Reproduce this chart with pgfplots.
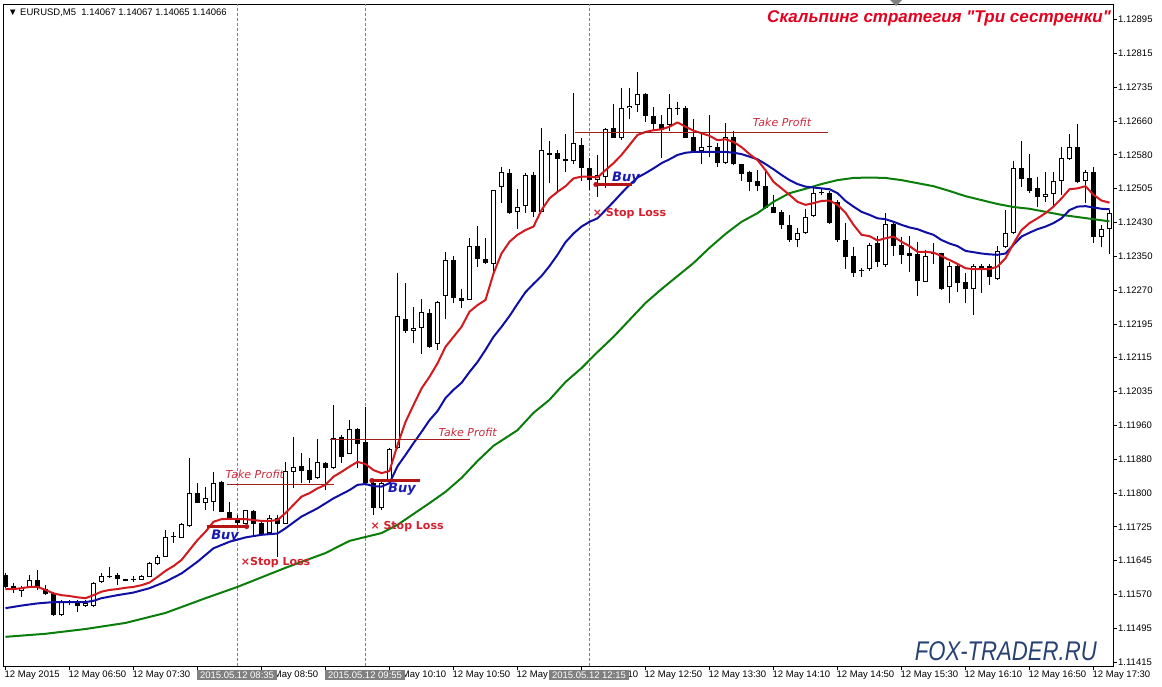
\documentclass[border=0pt]{standalone}
\usepackage{pgfplots}
\pgfplotsset{compat=1.18}
\usepackage{pgfplotstable}
\usepackage{fontspec}
\setmainfont{Liberation Sans}
\newfontfamily\dejavu{DejaVu Sans}
\newfontfamily\titlefont[Ligatures=TeXOff]{Liberation Sans}
\definecolor{mared}{RGB}{210,25,30}
\definecolor{mablue}{RGB}{15,15,165}
\definecolor{magreen}{RGB}{10,125,10}
\definecolor{entryred}{RGB}{180,20,20}
\definecolor{tpred}{RGB}{160,30,30}
\definecolor{tptext}{RGB}{205,40,60}
\definecolor{buyblue}{RGB}{25,25,180}
\definecolor{slred}{RGB}{215,30,45}
\definecolor{titlered}{RGB}{228,0,30}
\definecolor{foxblue}{RGB}{40,65,115}
\definecolor{boxgray}{RGB}{128,128,128}

\pgfplotstableread{
j O H L C
2 1.11579 1.11590 1.11565 1.11586
3 1.11588 1.11615 1.11587 1.11604
7 1.11523 1.11558 1.11522 1.11554
8 1.11552 1.11558 1.11546 1.11554
10 1.11545 1.11558 1.11542 1.11551
11 1.11544 1.11600 1.11542 1.11598
12 1.11600 1.11619 1.11596 1.11613
13 1.11612 1.11633 1.11608 1.11614
17 1.11604 1.11615 1.11603 1.11613
18 1.11611 1.11646 1.11610 1.11642
19 1.11641 1.11661 1.11638 1.11656
20 1.11658 1.11719 1.11657 1.11704
22 1.11701 1.11735 1.11700 1.11732
23 1.11728 1.11884 1.11725 1.11804
25 1.11782 1.11819 1.11765 1.11792
26 1.11784 1.11853 1.11763 1.11828
30 1.11734 1.11765 1.11733 1.11764
33 1.11711 1.11754 1.11710 1.11747
35 1.11734 1.11876 1.11733 1.11856
36 1.11853 1.11934 1.11815 1.11864
39 1.11838 1.11928 1.11836 1.11875
41 1.11861 1.12007 1.11860 1.11930
43 1.11894 1.11972 1.11893 1.11951
47 1.11769 1.11830 1.11765 1.11827
48 1.11830 1.11907 1.11827 1.11905
49 1.11907 1.12310 1.11906 1.12212
51 1.12178 1.12233 1.12149 1.12184
52 1.12184 1.12251 1.12125 1.12221
54 1.12147 1.12247 1.12134 1.12244
55 1.12259 1.12360 1.12204 1.12341
58 1.12250 1.12391 1.12249 1.12373
61 1.12332 1.12503 1.12312 1.12502
62 1.12509 1.12556 1.12472 1.12543
64 1.12451 1.12504 1.12412 1.12462
65 1.12465 1.12541 1.12450 1.12537
67 1.12452 1.12645 1.12451 1.12594
71 1.12568 1.12725 1.12562 1.12610
74 1.12525 1.12584 1.12485 1.12537
75 1.12533 1.12644 1.12506 1.12643
77 1.12621 1.12737 1.12617 1.12690
78 1.12690 1.12737 1.12665 1.12696
79 1.12698 1.12775 1.12683 1.12723
83 1.12652 1.12723 1.12637 1.12692
87 1.12592 1.12633 1.12562 1.12602
88 1.12601 1.12675 1.12579 1.12603
90 1.12564 1.12657 1.12562 1.12624
99 1.12387 1.12414 1.12372 1.12403
100 1.12403 1.12459 1.12402 1.12439
101 1.12442 1.12506 1.12441 1.12496
102 1.12495 1.12506 1.12491 1.12497
108 1.12320 1.12380 1.12316 1.12376
110 1.12330 1.12449 1.12324 1.12423
115 1.12291 1.12364 1.12290 1.12350
118 1.12278 1.12337 1.12241 1.12327
121 1.12274 1.12332 1.12214 1.12327
124 1.12297 1.12373 1.12295 1.12362
125 1.12370 1.12456 1.12369 1.12404
126 1.12404 1.12568 1.12402 1.12552
130 1.12485 1.12544 1.12475 1.12492
131 1.12493 1.12544 1.12462 1.12523
132 1.12524 1.12602 1.12491 1.12575
133 1.12573 1.12631 1.12572 1.12601
135 1.12523 1.12548 1.12472 1.12543
137 1.12393 1.12422 1.12372 1.12412
138 1.12412 1.12456 1.12355 1.12450
}\bull

\pgfplotstableread{
j O H L C
0 1.11615 1.11620 1.11586 1.11588
1 1.11591 1.11597 1.11574 1.11583
4 1.11604 1.11627 1.11581 1.11585
5 1.11583 1.11592 1.11569 1.11572
6 1.11573 1.11577 1.11522 1.11523
9 1.11553 1.11558 1.11531 1.11545
14 1.11615 1.11619 1.11592 1.11606
15 1.11606 1.11607 1.11601 1.11602
16 1.11606 1.11613 1.11600 1.11604
21 1.11705 1.11715 1.11688 1.11703
24 1.11804 1.11827 1.11781 1.11782
27 1.11830 1.11833 1.11760 1.11761
28 1.11761 1.11784 1.11742 1.11746
29 1.11747 1.11754 1.11727 1.11736
31 1.11763 1.11765 1.11708 1.11733
32 1.11736 1.11738 1.11708 1.11710
34 1.11747 1.11754 1.11658 1.11733
37 1.11866 1.11896 1.11827 1.11856
38 1.11857 1.11884 1.11827 1.11834
40 1.11874 1.11876 1.11811 1.11861
42 1.11934 1.11938 1.11873 1.11888
44 1.11951 1.11953 1.11861 1.11917
45 1.11922 1.12003 1.11823 1.11827
46 1.11827 1.11834 1.11754 1.11769
50 1.12205 1.12287 1.12172 1.12178
53 1.12219 1.12227 1.12138 1.12141
56 1.12341 1.12350 1.12243 1.12253
57 1.12254 1.12274 1.12231 1.12247
59 1.12373 1.12419 1.12326 1.12343
60 1.12343 1.12391 1.12332 1.12333
63 1.12541 1.12550 1.12446 1.12450
66 1.12537 1.12544 1.12439 1.12452
68 1.12587 1.12614 1.12518 1.12583
69 1.12587 1.12594 1.12498 1.12573
70 1.12574 1.12631 1.12544 1.12568
72 1.12606 1.12621 1.12524 1.12552
73 1.12552 1.12575 1.12502 1.12525
76 1.12644 1.12700 1.12622 1.12623
80 1.12723 1.12725 1.12660 1.12673
81 1.12673 1.12694 1.12640 1.12654
82 1.12654 1.12675 1.12575 1.12640
84 1.12692 1.12706 1.12675 1.12690
85 1.12690 1.12696 1.12622 1.12623
86 1.12624 1.12665 1.12592 1.12593
89 1.12601 1.12610 1.12555 1.12565
91 1.12624 1.12639 1.12560 1.12561
92 1.12561 1.12562 1.12524 1.12539
93 1.12543 1.12547 1.12501 1.12521
94 1.12523 1.12548 1.12501 1.12511
95 1.12511 1.12548 1.12459 1.12460
96 1.12464 1.12491 1.12449 1.12450
97 1.12452 1.12456 1.12412 1.12422
98 1.12422 1.12445 1.12382 1.12386
103 1.12495 1.12500 1.12424 1.12426
104 1.12475 1.12479 1.12383 1.12386
105 1.12387 1.12427 1.12320 1.12349
106 1.12351 1.12372 1.12301 1.12310
107 1.12318 1.12322 1.12302 1.12315
109 1.12380 1.12396 1.12326 1.12337
111 1.12423 1.12427 1.12350 1.12373
112 1.12376 1.12395 1.12332 1.12353
113 1.12356 1.12396 1.12313 1.12351
114 1.12355 1.12383 1.12257 1.12293
116 1.12356 1.12380 1.12332 1.12354
117 1.12356 1.12358 1.12272 1.12274
119 1.12327 1.12332 1.12268 1.12289
120 1.12291 1.12310 1.12241 1.12274
122 1.12327 1.12332 1.12264 1.12322
123 1.12327 1.12332 1.12283 1.12302
127 1.12552 1.12614 1.12510 1.12527
128 1.12529 1.12585 1.12496 1.12501
129 1.12506 1.12533 1.12464 1.12485
134 1.12601 1.12654 1.12518 1.12521
136 1.12543 1.12555 1.12380 1.12393
}\bear

\pgfplotsset{candle/.style={forget plot, draw=none, no markers,
  error bars/.cd, y dir=minus, y explicit, error mark=none}}

\begin{document}
\begin{tikzpicture}
\useasboundingbox (-3pt,-20pt) rectangle (1159pt,666pt);
\begin{axis}[
  at={(0pt,0pt)}, anchor=south west, scale only axis,
  width=1110pt, height=662pt,
  xmin=-0.3125, xmax=138.4375, ymin=1.114058, ymax=1.129307,
  axis line style={line width=0.8pt},
  tick align=outside, major tick length=4pt,
  tick style={black, line width=0.6pt},
  xtick pos=left, ytick pos=right, yticklabel pos=right,
  xtick={0,8,16,24,32,40,48,56,64,72,80,88,96,104,112,120,128,136},
  xticklabels={12 May 2015,12 May 06:50,12 May 07:30,12 May 08:10,12 May 08:50,12 May 09:30,12 May 10:10,12 May 10:50,12 May 11:30,12 May 12:10,12 May 12:50,12 May 13:30,12 May 14:10,12 May 14:50,12 May 15:30,12 May 16:10,12 May 16:50,12 May 17:30},
  xticklabel style={anchor=north west, font=\fontsize{9.5pt}{11pt}\selectfont, inner sep=0pt, xshift=-1pt, yshift=-1pt},
  ytick={1.11415,1.114929,1.115708,1.116487,1.117266,1.118045,1.118824,1.119603,1.120382,1.121161,1.121939,1.122718,1.123497,1.124276,1.125055,1.125834,1.126613,1.127392,1.128171,1.12895},
  yticklabels={1.11415,1.11495,1.11570,1.11645,1.11725,1.11800,1.11880,1.11960,1.12035,1.12115,1.12195,1.12270,1.12350,1.12430,1.12505,1.12580,1.12660,1.12735,1.12815,1.12895},
  yticklabel style={anchor=west, font=\fontsize{9.5pt}{11pt}\selectfont, inner sep=0pt, xshift=1pt},
  extra x ticks={29,45,73},
  extra x tick labels={},
  extra x tick style={grid=major, major tick length=0pt, major grid style={gray, dash pattern=on 3pt off 2pt, line width=0.7pt}},
]
% wicks
\addplot[candle, error bar style={draw=black, solid, line width=1pt}]
  table[x=j, y=H, y error minus expr=\thisrow{H}-\thisrow{L}] {\bull};
\addplot[candle, error bar style={draw=black, solid, line width=1pt}]
  table[x=j, y=H, y error minus expr=\thisrow{H}-\thisrow{L}] {\bear};
% bear bodies
\addplot[candle, error bar style={draw=black, solid, line width=5pt}]
  table[x=j, y=O, y error minus expr=\thisrow{O}-\thisrow{C}] {\bear};
% bull bodies
\addplot[candle, error bar style={draw=black, solid, line width=5pt}]
  table[x=j, y=C, y error minus expr=\thisrow{C}-\thisrow{O}] {\bull};
\addplot[candle, error bar style={draw=white, solid, line width=3pt}]
  table[x=j, y expr=\thisrow{C}-0.000023, y error minus expr={max(\thisrow{C}-\thisrow{O}-0.000046,0)}] {\bull};

% moving averages
\addplot[forget plot, magreen, line width=2pt, line join=round] coordinates {
(0,1.11473)(5,1.11480)(10,1.11491)(15,1.11505)(20,1.11528)(25,1.11562)(29,1.11588)(35,1.11632)(40,1.11666)(43,1.11694)(45,1.11703)(47,1.11712)(49,1.11731)(51,1.11756)(53,1.11781)(55,1.11807)(57,1.11839)(59,1.11878)(61,1.11913)(64,1.11949)(66,1.11989)(68,1.12019)(70,1.12060)(72,1.12092)(74,1.12129)(76,1.12164)(78,1.12203)(80,1.12242)(82,1.12274)(84,1.12304)(86,1.12334)(88,1.12369)(90,1.12401)(92,1.12429)(94,1.12449)(96,1.12475)(98,1.12495)(100,1.12505)(102,1.12516)(104,1.12525)(106,1.12530)(108,1.12531)(110,1.12530)(112,1.12525)(114,1.12518)(116,1.12511)(118,1.12500)(120,1.12488)(122,1.12479)(124,1.12470)(126,1.12463)(128,1.12459)(130,1.12452)(132,1.12445)(134,1.12440)(136,1.12435)(138,1.12430)};
\addplot[forget plot, mablue, line width=2pt, line join=round] coordinates {
(0,1.11539)(2,1.11545)(4,1.11550)(6,1.11553)(8,1.11553)(10,1.11553)(11,1.11556)(12,1.11562)(14,1.11569)(16,1.11575)(18,1.11585)(20,1.11600)(22,1.11619)(24,1.11646)(26,1.11677)(28,1.11692)(30,1.11702)(32,1.11708)(34,1.11711)(35,1.11723)(37,1.11750)(39,1.11769)(41,1.11792)(43,1.11811)(44,1.11823)(45,1.11825)(46,1.11820)(47,1.11819)(48,1.11827)(49,1.11866)(50,1.11892)(51,1.11919)(52,1.11945)(53,1.11972)(54,1.11993)(55,1.12023)(56,1.12042)(57,1.12058)(58,1.12083)(59,1.12106)(60,1.12134)(61,1.12164)(62,1.12187)(63,1.12212)(64,1.12240)(65,1.12267)(66,1.12286)(67,1.12304)(68,1.12327)(69,1.12353)(70,1.12382)(71,1.12402)(72,1.12418)(73,1.12429)(74,1.12437)(75,1.12456)(76,1.12475)(77,1.12495)(78,1.12514)(79,1.12531)(80,1.12541)(81,1.12552)(82,1.12564)(83,1.12573)(84,1.12583)(85,1.12588)(86,1.12590)(88,1.12590)(90,1.12590)(91,1.12588)(92,1.12585)(93,1.12579)(94,1.12573)(95,1.12562)(96,1.12550)(97,1.12537)(98,1.12525)(99,1.12516)(100,1.12510)(101,1.12508)(102,1.12506)(103,1.12504)(104,1.12495)(105,1.12477)(106,1.12464)(107,1.12452)(108,1.12445)(109,1.12437)(110,1.12435)(111,1.12429)(112,1.12422)(113,1.12416)(114,1.12412)(115,1.12405)(116,1.12399)(117,1.12387)(118,1.12379)(119,1.12373)(120,1.12362)(121,1.12359)(122,1.12356)(123,1.12354)(124,1.12353)(125,1.12356)(126,1.12376)(127,1.12395)(128,1.12404)(129,1.12412)(130,1.12418)(131,1.12426)(132,1.12437)(133,1.12456)(134,1.12464)(135,1.12465)(136,1.12462)(137,1.12459)(138,1.12458)};
\addplot[forget plot, mared, line width=2pt, line join=round] coordinates {
(0,1.11583)(1,1.11583)(2,1.11585)(3,1.11588)(4,1.11588)(5,1.11581)(6,1.11573)(7,1.11569)(8,1.11567)(9,1.11564)(10,1.11562)(11,1.11569)(12,1.11577)(13,1.11581)(14,1.11583)(15,1.11586)(16,1.11588)(17,1.11592)(18,1.11598)(19,1.11611)(20,1.11625)(21,1.11636)(22,1.11650)(23,1.11673)(24,1.11696)(25,1.11715)(26,1.11738)(27,1.11744)(28,1.11745)(29,1.11744)(30,1.11744)(31,1.11742)(32,1.11740)(33,1.11740)(34,1.11742)(35,1.11758)(36,1.11777)(37,1.11796)(38,1.11804)(39,1.11815)(40,1.11823)(41,1.11842)(42,1.11853)(43,1.11865)(44,1.11876)(45,1.11871)(46,1.11857)(47,1.11850)(48,1.11855)(49,1.11915)(50,1.11968)(51,1.12007)(52,1.12045)(53,1.12072)(54,1.12103)(55,1.12141)(56,1.12164)(57,1.12187)(58,1.12222)(59,1.12237)(60,1.12249)(61,1.12310)(62,1.12356)(63,1.12383)(64,1.12399)(65,1.12410)(66,1.12418)(67,1.12456)(68,1.12483)(69,1.12498)(70,1.12511)(71,1.12529)(72,1.12533)(73,1.12533)(74,1.12531)(75,1.12548)(76,1.12564)(77,1.12583)(78,1.12606)(79,1.12629)(80,1.12636)(81,1.12640)(82,1.12642)(83,1.12648)(84,1.12658)(85,1.12648)(86,1.12639)(87,1.12633)(88,1.12627)(89,1.12617)(90,1.12619)(91,1.12613)(92,1.12601)(93,1.12585)(94,1.12571)(95,1.12548)(96,1.12521)(97,1.12506)(98,1.12491)(99,1.12475)(100,1.12468)(101,1.12472)(102,1.12477)(103,1.12478)(104,1.12468)(105,1.12450)(106,1.12422)(107,1.12399)(108,1.12396)(109,1.12386)(110,1.12391)(111,1.12395)(112,1.12383)(113,1.12373)(114,1.12360)(115,1.12360)(116,1.12358)(117,1.12350)(118,1.12341)(119,1.12332)(120,1.12322)(121,1.12320)(122,1.12320)(123,1.12320)(124,1.12326)(125,1.12345)(126,1.12379)(127,1.12410)(128,1.12426)(129,1.12437)(130,1.12449)(131,1.12464)(132,1.12483)(133,1.12504)(134,1.12506)(135,1.12511)(136,1.12491)(137,1.12478)(138,1.12473)};

% take profit lines
\addplot[forget plot, tpred, line width=0.8pt] coordinates {(27.7,1.11823)(41.0,1.11823)};
\addplot[forget plot, tpred, line width=0.8pt] coordinates {(40.6,1.11928)(58.1,1.11928)};
\addplot[forget plot, tpred, line width=0.8pt] coordinates {(71.2,1.12634)(102.8,1.12634)};
% entry lines
\addplot[forget plot, entryred, line width=3pt] coordinates {(25.15,1.11727)(30.15,1.11727)};
\addplot[forget plot, entryred, line width=3pt] coordinates {(45.8,1.11833)(51.8,1.11833)};
\addplot[forget plot, entryred, line width=3pt] coordinates {(73.8,1.12515)(78.3,1.12515)};
\addplot[forget plot, only marks, mark=*, mark size=2.3pt, entryred] coordinates {(30.15,1.11727)(45.8,1.11833)(73.8,1.12515)};

% labels
\node[anchor=west, inner sep=0pt, text=tptext, font=\dejavu\itshape\fontsize{11pt}{12pt}\selectfont] at (axis cs:27.5,1.11846) {Take Profit};
\node[anchor=west, inner sep=0pt, text=tptext, font=\dejavu\itshape\fontsize{11pt}{12pt}\selectfont] at (axis cs:54.1,1.11945) {Take Profit};
\node[anchor=west, inner sep=0pt, text=tptext, font=\dejavu\itshape\fontsize{11pt}{12pt}\selectfont] at (axis cs:93.4,1.12657) {Take Profit};
\node[anchor=west, inner sep=0pt, text=buyblue, font=\dejavu\bfseries\itshape\fontsize{13pt}{14pt}\selectfont] at (axis cs:25.7,1.11705) {Buy};
\node[anchor=west, inner sep=0pt, text=buyblue, font=\dejavu\bfseries\itshape\fontsize{13pt}{14pt}\selectfont] at (axis cs:47.8,1.11813) {Buy};
\node[anchor=west, inner sep=0pt, text=buyblue, font=\dejavu\bfseries\itshape\fontsize{13pt}{14pt}\selectfont] at (axis cs:75.8,1.12530) {Buy};
\node[anchor=west, inner sep=0pt, text=slred, font=\dejavu\bfseries\fontsize{11pt}{12pt}\selectfont] at (axis cs:29.4,1.11643) {×Stop Loss};
\node[anchor=west, inner sep=0pt, text=slred, font=\dejavu\bfseries\fontsize{11pt}{12pt}\selectfont] at (axis cs:45.6,1.11728) {× Stop Loss};
\node[anchor=west, inner sep=0pt, text=slred, font=\dejavu\bfseries\fontsize{11pt}{12pt}\selectfont] at (axis cs:73.4,1.12447) {× Stop Loss};
\end{axis}

% header texts
\node[anchor=west, inner sep=0pt, font=\fontsize{9.5pt}{11pt}\selectfont] at (5pt,653pt) {▼ EURUSD,M5\ \ 1.14067 1.14067 1.14065 1.14066};
\node[anchor=east, inner sep=0pt, text=titlered, font=\titlefont\bfseries\itshape\fontsize{17pt}{19pt}\selectfont] at (1108pt,648pt) {Скальпинг стратегия "Три сестренки"};
\node[anchor=east, inner sep=0pt, text=foxblue, font=\itshape\fontsize{27pt}{29pt}\selectfont, xscale=0.82] at (1094pt,15pt) {FOX-TRADER.RU};
\fill[boxgray] (887pt,666pt) -- (899pt,666pt) -- (893pt,660pt) -- cycle;

% time boxes
\node[fill=boxgray, text=white, inner xsep=3pt, inner ysep=1.5pt, font=\fontsize{9.5pt}{11pt}\selectfont] at (234pt,-9pt) {2015.05.12 08:35};
\node[fill=boxgray, text=white, inner xsep=3pt, inner ysep=1.5pt, font=\fontsize{9.5pt}{11pt}\selectfont] at (362pt,-9pt) {2015.05.12 09:55};
\node[fill=boxgray, text=white, inner xsep=3pt, inner ysep=1.5pt, font=\fontsize{9.5pt}{11pt}\selectfont] at (586pt,-9pt) {2015.05.12 12:15};
\end{tikzpicture}
\end{document}
